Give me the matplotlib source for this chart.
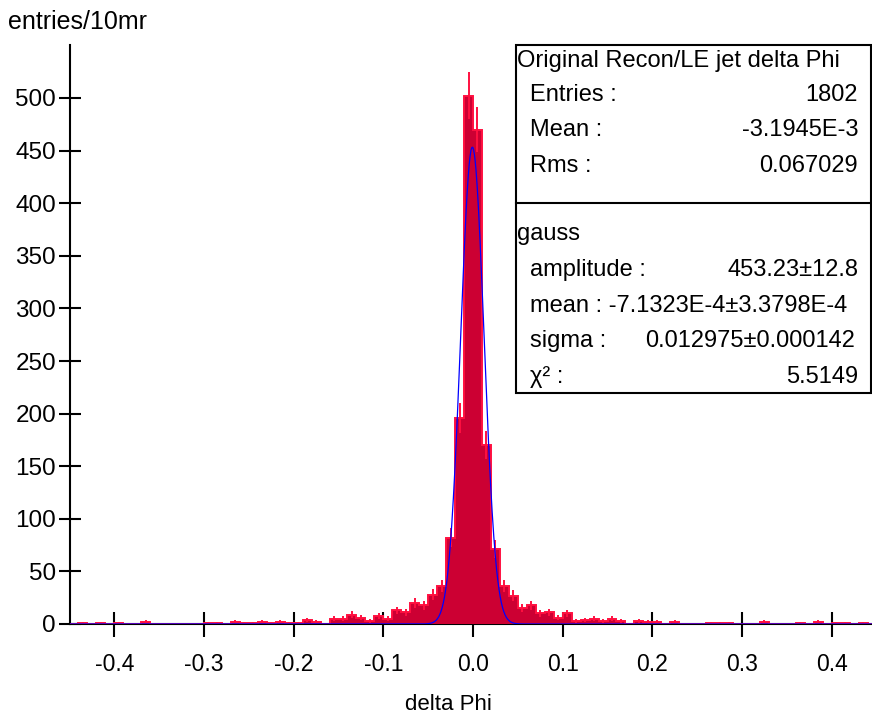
import numpy as np
import matplotlib
matplotlib.use("Agg")
import matplotlib.pyplot as plt
from matplotlib.patches import Rectangle
from matplotlib.lines import Line2D

plt.rcParams['font.family'] = ['Liberation Sans', 'DejaVu Sans']

# bin edges: 10 mrad bins from -0.45 to 0.45
bin_lo = -0.45
bin_width = 0.01
counts = [
    0, 1, 0, 1, 0, 1, 0, 0, 2, 0,      # -0.45 .. -0.36
    0, 0, 0, 0, 0, 1, 1, 0, 2, 1,      # -0.35 .. -0.26
    1, 2, 1, 2, 1, 1, 4, 2, 0, 5,      # -0.25 .. -0.16
    5, 9, 6, 3, 8, 5, 13, 11, 20, 18,  # -0.15 .. -0.06
    28, 36, 82, 196, 502, 470, 170, 71, 36, 27,  # -0.05 .. 0.04
    15, 18, 10, 11, 6, 10, 3, 4, 5, 3,  # 0.05 .. 0.14
    5, 3, 0, 3, 2, 2, 0, 2, 0, 0,      # 0.15 .. 0.24
    0, 1, 1, 1, 0, 0, 0, 2, 0, 0,      # 0.25 .. 0.34
    0, 1, 0, 2, 0, 1, 1, 0, 1, 0,      # 0.35 .. 0.44
]

# fit results shown in the stat box
amp = 453.23
mu = -7.1323e-4
sigma = 0.012975

x_ticks = [-0.4, -0.3, -0.2, -0.1, 0.0, 0.1, 0.2, 0.3, 0.4]
x_tick_labels = ["-0.4", "-0.3", "-0.2", "-0.1", "0.0", "0.1", "0.2", "0.3", "0.4"]
y_ticks = [0, 50, 100, 150, 200, 250, 300, 350, 400, 450, 500]

stat_labels = ["Entries :", "Mean :", "Rms :"]
stat_values = ["1802", "-3.1945E-3", "0.067029"]
fit_labels = ["amplitude :", "mean : -7.1323E-4\u00b13.3798E-4", "sigma :", "\u03c7\u00b2 :"]
fit_values = ["453.23\u00b112.8", "", "0.012975\u00b10.000142", "5.5149"]

W, H = 872, 715
fig = plt.figure(figsize=(W / 100, H / 100), dpi=100)

def fx(px):
    return px / W

def fy(py):
    return 1 - py / H

# axes placed in pixel terms
x0_px, x1_px = 70, 872
y0_px, y1_px = 624, 45
ax = fig.add_axes([fx(x0_px), fy(y0_px), fx(x1_px - x0_px), (y0_px - y1_px) / H])

counts = np.array(counts, dtype=float)
edges = bin_lo + bin_width * np.arange(len(counts) + 1)
centers = 0.5 * (edges[:-1] + edges[1:])

ax.stairs(counts, edges, fill=True, color="#cc0033", zorder=3)
ax.stairs(counts, edges, color="#ff1040", linewidth=1.4, zorder=4)
err = np.sqrt(counts)
nz = counts > 0
ax.vlines(centers[nz], (counts - err)[nz], (counts + err)[nz], color="#ff1040",
          linewidth=1.4, zorder=4)

xs = np.linspace(-0.45, 0.45, 2000)
ax.plot(xs, amp * np.exp(-0.5 * ((xs - mu) / sigma) ** 2), color="#0000ff",
        linewidth=0.9, zorder=5)

ax.set_xlim((x0_px - 473.0) / 896.75, (x1_px - 473.0) / 896.75)
ax.set_ylim(0, (y0_px - y1_px) / 1.052)

ax.set_xticks(x_ticks)
ax.set_xticklabels(x_tick_labels)
ax.set_yticks(y_ticks)

for s in ["top", "right"]:
    ax.spines[s].set_visible(False)
for s in ["left", "bottom"]:
    ax.spines[s].set_linewidth(1.5)
    ax.spines[s].set_zorder(1)
ax.set_axisbelow(True)
ax.patch.set_visible(False)

ax.tick_params(axis="x", direction="inout", length=18, width=1.5, pad=12, labelsize=16.5)
ax.tick_params(axis="y", direction="inout", length=16, width=1.5, pad=2, labelsize=17.5)

fig.text(fx(8), fy(22), "entries/10mr", fontsize=18, ha="left", va="center")
fig.text(fx(448), fy(704), "delta Phi", fontsize=16, ha="center", va="center")

# stat box
bx0, bx1, by0, by1, bdiv = 516, 871, 45, 393, 203
fig.add_artist(Rectangle((fx(bx0), fy(by1)), fx(bx1 - bx0), (by1 - by0) / H,
                         transform=fig.transFigure, facecolor="white",
                         edgecolor="black", linewidth=1.5, zorder=10))
fig.add_artist(Line2D([fx(bx0), fx(bx1)], [fy(bdiv), fy(bdiv)],
                      transform=fig.transFigure, color="black", linewidth=1.5, zorder=11))

fs = 17
fig.text(fx(517), fy(61), "Original Recon/LE jet delta Phi", fontsize=fs,
         ha="left", va="center", zorder=12)
for i, (lab, val) in enumerate(zip(stat_labels, stat_values)):
    yy = 95 + 35.5 * i
    fig.text(fx(530), fy(yy), lab, fontsize=fs, ha="left", va="center", zorder=12)
    fig.text(fx(858), fy(yy), val, fontsize=fs, ha="right", va="center", zorder=12)

fig.text(fx(517), fy(234), "gauss", fontsize=fs, ha="left", va="center", zorder=12)
for i, (lab, val) in enumerate(zip(fit_labels, fit_values)):
    yy = 270 + 35.7 * i
    fig.text(fx(530), fy(yy), lab, fontsize=fs, ha="left", va="center", zorder=12)
    if val:
        xr = 855 if i == 2 else 858
        fig.text(fx(xr), fy(yy), val, fontsize=fs, ha="right", va="center", zorder=12)

fig.savefig("out.png", dpi=100)
